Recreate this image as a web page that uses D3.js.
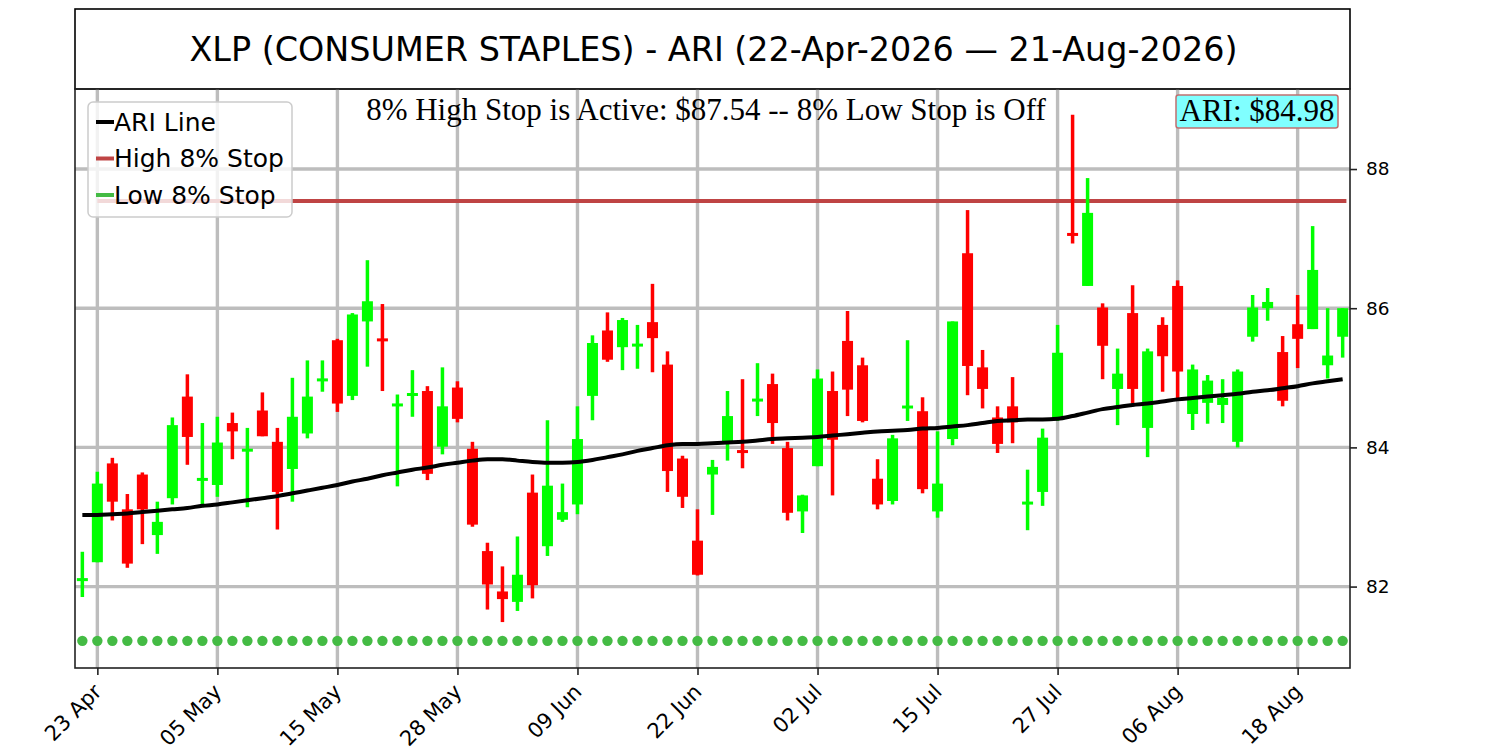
<!DOCTYPE html>
<html>
<head>
<meta charset="utf-8">
<script src="https://cdn.jsdelivr.net/npm/d3@7"></script>
<style>
  html, body { margin: 0; padding: 0; background: #ffffff; }
  svg { display: block; }
</style>
</head>
<body>
<svg id="chart" width="1500" height="750"></svg>
<script>
// ---------------- DATA ----------------
const dates = [
  "2026-04-22","2026-04-23","2026-04-24","2026-04-27","2026-04-28","2026-04-29","2026-04-30",
  "2026-05-01","2026-05-04","2026-05-05","2026-05-06","2026-05-07","2026-05-08","2026-05-11",
  "2026-05-12","2026-05-13","2026-05-14","2026-05-15","2026-05-18","2026-05-19","2026-05-20",
  "2026-05-21","2026-05-22","2026-05-26","2026-05-27","2026-05-28","2026-05-29",
  "2026-06-01","2026-06-02","2026-06-03","2026-06-04","2026-06-05","2026-06-08","2026-06-09",
  "2026-06-10","2026-06-11","2026-06-12","2026-06-15","2026-06-16","2026-06-17","2026-06-18",
  "2026-06-22","2026-06-23","2026-06-24","2026-06-25","2026-06-26","2026-06-29","2026-06-30",
  "2026-07-01","2026-07-02","2026-07-06","2026-07-07","2026-07-08","2026-07-09","2026-07-10",
  "2026-07-13","2026-07-14","2026-07-15","2026-07-16","2026-07-17","2026-07-20","2026-07-21",
  "2026-07-22","2026-07-23","2026-07-24","2026-07-27","2026-07-28","2026-07-29","2026-07-30",
  "2026-07-31","2026-08-03","2026-08-04","2026-08-05","2026-08-06","2026-08-07","2026-08-10",
  "2026-08-11","2026-08-12","2026-08-13","2026-08-14","2026-08-17","2026-08-18","2026-08-19",
  "2026-08-20","2026-08-21"
];
const opens = [
  82.08,82.35,83.77,83.11,83.61,82.74,83.27,84.73,83.53,83.46,84.35,83.95,84.53,84.08,
  83.69,84.20,84.96,85.54,84.74,85.81,85.56,84.60,84.75,84.81,84.01,84.86,83.98,82.51,
  81.93,81.78,83.35,82.58,82.96,83.18,84.74,85.68,85.44,85.46,85.80,85.19,83.84,82.66,
  83.61,84.08,83.95,84.67,84.91,83.99,83.08,83.73,84.81,85.53,85.18,83.55,83.23,84.57,
  84.52,83.08,84.12,86.79,85.15,84.43,84.59,83.19,83.36,84.40,87.07,86.32,86.01,84.84,
  85.93,84.28,85.76,86.32,84.48,84.64,84.61,84.08,85.59,86.00,85.37,85.77,85.70,85.18,
  85.59
];
const highs = [
  82.50,83.65,83.85,83.33,83.64,83.22,84.43,85.05,84.35,84.44,84.50,84.28,84.79,84.28,
  85.00,85.25,85.25,85.56,85.93,86.69,86.06,84.76,85.11,84.88,85.15,84.95,84.08,82.63,
  82.29,82.72,83.61,84.39,83.48,84.59,85.61,85.94,85.86,85.76,86.35,85.38,83.88,83.11,
  83.82,84.81,84.98,85.21,85.06,84.08,83.32,85.12,85.09,85.96,85.29,83.83,84.18,85.54,
  84.72,84.23,85.81,87.41,85.40,84.59,85.01,83.68,84.27,85.76,88.78,87.87,86.07,85.42,
  86.33,85.42,85.87,86.40,85.19,85.04,84.98,85.12,86.19,86.29,85.60,86.19,87.18,86.00,
  86.00
];
const lows = [
  81.85,82.35,82.95,82.27,82.61,82.47,83.18,83.75,83.14,83.29,83.83,83.14,84.16,82.82,
  83.22,84.13,84.80,84.51,84.68,85.16,84.81,83.44,84.44,83.53,83.90,84.36,82.86,81.67,
  81.49,81.65,81.83,82.44,82.93,83.04,84.39,85.23,85.11,85.13,85.08,83.36,83.13,82.16,
  83.03,83.81,83.70,84.45,84.05,82.95,82.77,83.73,83.31,84.45,84.36,83.11,83.18,84.38,
  83.34,82.99,84.03,84.75,84.56,83.92,84.06,82.81,83.16,84.38,86.93,86.32,84.98,84.32,
  84.63,83.86,84.80,84.70,84.25,84.34,84.35,84.00,85.52,85.82,84.59,85.14,85.70,84.99,
  85.29
];
const closes = [
  82.12,83.48,83.22,82.33,83.11,82.93,84.32,84.15,83.55,84.07,84.23,83.97,84.16,83.36,
  84.44,84.73,84.98,84.63,85.91,86.10,85.53,84.62,84.77,83.62,84.59,84.41,82.89,82.03,
  81.82,82.17,82.02,83.45,83.07,84.12,85.50,85.26,85.83,85.48,85.57,83.66,83.29,82.17,
  83.72,84.45,83.93,84.69,84.35,83.06,83.31,84.99,84.11,84.83,84.38,83.18,84.13,84.59,
  83.40,83.48,85.81,85.17,84.84,84.05,84.36,83.21,84.14,85.36,87.05,87.37,85.46,85.06,
  84.84,85.38,85.31,85.09,85.12,84.96,84.71,85.09,86.01,86.09,84.67,85.56,86.55,85.32,
  86.00
];
const ariLine = [
  83.03,83.03,83.04,83.05,83.07,83.09,83.11,83.13,83.16,83.18,83.21,83.24,83.27,83.30,
  83.34,83.38,83.42,83.46,83.51,83.55,83.60,83.64,83.68,83.71,83.75,83.78,83.81,83.83,
  83.83,83.81,83.79,83.78,83.78,83.79,83.82,83.86,83.90,83.95,83.99,84.03,84.05,84.05,
  84.06,84.07,84.08,84.10,84.12,84.13,84.14,84.15,84.17,84.19,84.21,84.23,84.24,84.25,
  84.27,84.28,84.30,84.32,84.35,84.38,84.39,84.40,84.40,84.41,84.45,84.50,84.55,84.58,
  84.61,84.63,84.66,84.69,84.71,84.73,84.75,84.77,84.80,84.82,84.85,84.88,84.92,84.95,
  84.98
];
const highStop = 87.54;
const lowStop = 81.22;
const ariLast = 84.98;
const xTickLabels = ["23 Apr","05 May","15 May","28 May","09 Jun","22 Jun","02 Jul","15 Jul","27 Jul","06 Aug","18 Aug"];
const xTickDates = ["2026-04-23","2026-05-05","2026-05-15","2026-05-28","2026-06-09","2026-06-22","2026-07-02","2026-07-15","2026-07-27","2026-08-06","2026-08-18"];
const yTicks = [82, 84, 86, 88];
const titleText = "XLP (CONSUMER STAPLES) - ARI (22-Apr-2026 \u2014 21-Aug-2026)";
const noteText = "8% High Stop is Active: $87.54 -- 8% Low Stop is Off";
const legendLabels = ["ARI Line", "High 8% Stop", "Low 8% Stop"];

// ---------------- LAYOUT ----------------
const L = 75, R = 1350, T = 89, B = 668;
const svg = d3.select("#chart");
const candles = dates.map((d, i) => ({i, d, o: opens[i], h: highs[i], l: lows[i], c: closes[i]}));

const x = d3.scaleLinear().domain([-0.49, dates.length - 1 + 0.49]).range([L, R]);
const y = d3.scaleLinear().domain([80.83, 89.15]).range([B, T]);

const UP = "#00ff00", DOWN = "#ff0000";
const gridColor = "#bdbdbd";

// title box
svg.append("rect").attr("x", L).attr("y", 9).attr("width", R - L).attr("height", T - 9)
  .attr("fill", "#fff").attr("stroke", "#000").attr("stroke-width", 1.6);
svg.append("text").attr("x", (L + R) / 2 + 1).attr("y", 61).attr("text-anchor", "middle")
  .attr("font-family", "DejaVu Sans").attr("font-size", 33.4).attr("fill", "#000").text(titleText);

const plot = svg.append("g");
plot.append("defs").append("clipPath").attr("id", "clip")
  .append("rect").attr("x", L).attr("y", T).attr("width", R - L).attr("height", B - T);

// grid
const tickIdx = xTickDates.map(d => dates.indexOf(d));
plot.append("g").selectAll("line").data(tickIdx).join("line")
  .attr("x1", d => x(d)).attr("x2", d => x(d)).attr("y1", T).attr("y2", B)
  .attr("stroke", gridColor).attr("stroke-width", 3.4);
plot.append("g").selectAll("line").data(yTicks).join("line")
  .attr("x1", L).attr("x2", R).attr("y1", d => y(d)).attr("y2", d => y(d))
  .attr("stroke", gridColor).attr("stroke-width", 3.4);

const gClip = plot.append("g").attr("clip-path", "url(#clip)");

// low stop dots
gClip.append("g").selectAll("circle").data(candles).join("circle")
  .attr("cx", d => x(d.i)).attr("cy", y(lowStop)).attr("r", 5.2).attr("fill", "#44bb44");

// high stop line
gClip.append("line").attr("x1", x(1)).attr("x2", x(dates.length - 1 + 0.25))
  .attr("y1", y(highStop)).attr("y2", y(highStop))
  .attr("stroke", "#bf4444").attr("stroke-width", 4);

// candles
const bw = 11, ww = 3.5;
const cg = gClip.append("g").selectAll("g").data(candles).join("g");
cg.append("rect")
  .attr("x", d => x(d.i) - ww / 2).attr("width", ww)
  .attr("y", d => y(d.h)).attr("height", d => Math.max(1, y(d.l) - y(d.h)))
  .attr("fill", d => d.c >= d.o ? UP : DOWN);
cg.append("rect")
  .attr("x", d => x(d.i) - bw / 2).attr("width", bw)
  .attr("y", d => {
    const top = y(Math.max(d.o, d.c)), bot = y(Math.min(d.o, d.c));
    const hgt = bot - top;
    return hgt < 3 ? (top + bot) / 2 - 1.5 : top;
  })
  .attr("height", d => Math.max(3, y(Math.min(d.o, d.c)) - y(Math.max(d.o, d.c))))
  .attr("fill", d => d.c >= d.o ? UP : DOWN);

// ARI line
gClip.append("path").datum(ariLine)
  .attr("d", d3.line().x((v, i) => x(i)).y(v => y(v)).curve(d3.curveMonotoneX))
  .attr("fill", "none").attr("stroke", "#000").attr("stroke-width", 4);

// frame
plot.append("rect").attr("x", L).attr("y", T).attr("width", R - L).attr("height", B - T)
  .attr("fill", "none").attr("stroke", "#222").attr("stroke-width", 1.6);

// axes
const xAxis = d3.axisBottom(x).tickValues(tickIdx)
  .tickFormat(d => xTickLabels[tickIdx.indexOf(d)]).tickSize(7).tickSizeOuter(0);
const gx = svg.append("g").attr("transform", `translate(0,${B})`).call(xAxis);
gx.select(".domain").remove();
gx.selectAll(".tick line").attr("stroke", "#222").attr("stroke-width", 1.6);
gx.selectAll(".tick text")
  .attr("font-family", "DejaVu Sans").attr("font-size", 21).attr("fill", "#000")
  .attr("text-anchor", "end").attr("y", 0).attr("dy", 0)
  .attr("transform", "translate(5,25) rotate(-45)");

const yAxis = d3.axisRight(y).tickValues(yTicks).tickFormat(d3.format("d")).tickSize(7).tickSizeOuter(0);
const gy = svg.append("g").attr("transform", `translate(${R},0)`).call(yAxis);
gy.select(".domain").remove();
gy.selectAll(".tick line").attr("stroke", "#222").attr("stroke-width", 1.6);
gy.selectAll(".tick text").attr("font-family", "DejaVu Sans").attr("font-size", 18.5)
  .attr("fill", "#000").attr("x", 16);

// annotation
svg.append("text").attr("x", 706).attr("y", 120).attr("text-anchor", "middle")
  .attr("font-family", "Liberation Serif").attr("font-size", 31).attr("fill", "#000").text(noteText);

// ARI box
svg.append("rect").attr("x", 1176).attr("y", 95).attr("width", 162).attr("height", 33).attr("rx", 2.5)
  .attr("fill", "#80ffff").attr("stroke", "#c07070").attr("stroke-width", 1.5);
svg.append("text").attr("x", 1257).attr("y", 121).attr("text-anchor", "middle")
  .attr("font-family", "Liberation Serif").attr("font-size", 31).attr("fill", "#000")
  .text("ARI: $" + ariLast.toFixed(2));

// legend
const lg = svg.append("g");
lg.append("rect").attr("x", 88).attr("y", 102).attr("width", 204).attr("height", 115).attr("rx", 5)
  .attr("fill", "#fff").attr("fill-opacity", 0.8).attr("stroke", "#cccccc").attr("stroke-width", 1.5);
const legColors = ["#000000", "#bf4444", "#44bb44"];
legendLabels.forEach((lab, k) => {
  const cy = 122 + k * 36.5;
  lg.append("line").attr("x1", 96).attr("x2", 114).attr("y1", cy).attr("y2", cy)
    .attr("stroke", legColors[k]).attr("stroke-width", 4);
  lg.append("text").attr("x", 114).attr("y", cy + 8.5)
    .attr("font-family", "DejaVu Sans").attr("font-size", 25).attr("fill", "#000").text(lab);
});
</script>
</body>
</html>
